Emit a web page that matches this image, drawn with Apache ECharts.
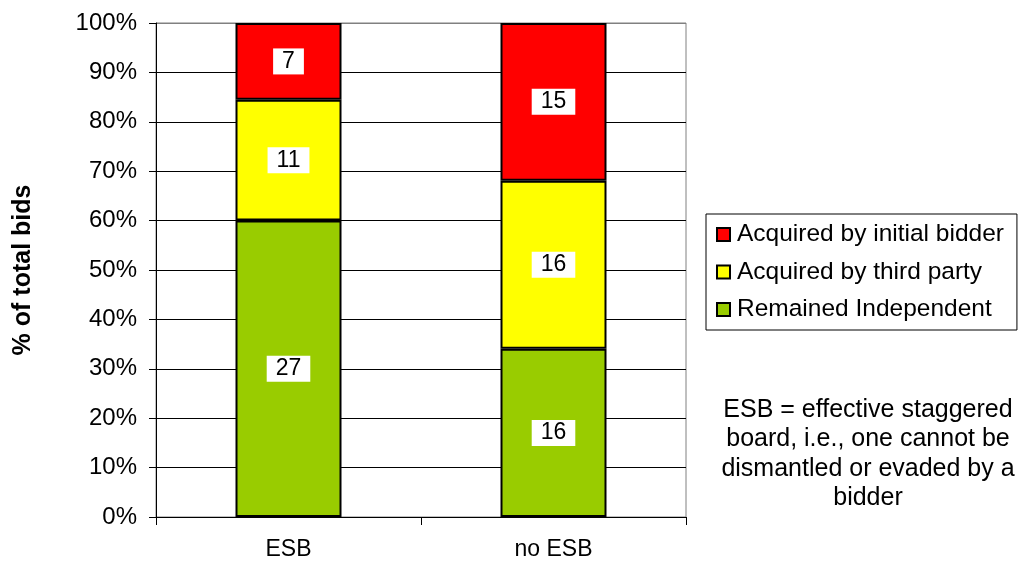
<!DOCTYPE html>
<html><head><meta charset="utf-8">
<script src="https://cdn.jsdelivr.net/npm/echarts@6/dist/echarts.min.js"></script>
<style>html,body{margin:0;padding:0;background:#fff}#c{width:1021px;height:565px}</style>
</head><body><div id="c"></div>
<script>
const categories = ['ESB', 'no ESB'];
const remainedIndependent = [27, 16];
const acquiredThirdParty = [11, 16];
const acquiredInitial = [7, 15];
const seriesNames = ['Remained Independent', 'Acquired by third party', 'Acquired by initial bidder'];
const seriesColors = ['#99CC00', '#FFFF00', '#FF0000'];
const noteLines = ['ESB = effective staggered', 'board, i.e., one cannot be', 'dismantled or evaded by a', 'bidder'];

const counts = [remainedIndependent, acquiredThirdParty, acquiredInitial];
const totals = categories.map((c, i) => counts.reduce((s, a) => s + a[i], 0));
const font = 'Arial, "Liberation Sans", sans-serif';

const chart = echarts.init(document.getElementById('c'));
chart.setOption({
  animation: false,
  textStyle: { fontFamily: font },
  grid: { left: 156, right: 335, top: 23, bottom: 48, show: true, borderColor: '#808080', borderWidth: 1,
          containLabel: false, outerBoundsMode: 'none' },
  xAxis: {
    type: 'category', data: categories,
    axisLine: { lineStyle: { color: '#000', width: 1 } },
    axisTick: { show: true, length: 8, lineStyle: { color: '#000' } },
    axisLabel: { color: '#000', fontSize: 23, margin: 21, fontFamily: font }
  },
  yAxis: {
    type: 'value', min: 0, max: 100, interval: 10,
    name: '% of total bids', nameLocation: 'middle', nameGap: 110,
    nameTextStyle: { fontSize: 25, fontWeight: 'bold', color: '#000', fontFamily: font, padding: [0, 0, 10, 0] },
    axisLine: { show: true, lineStyle: { color: '#000', width: 1 } },
    axisTick: { show: true, length: 7, lineStyle: { color: '#000' } },
    axisLabel: { color: '#000', fontSize: 24, margin: 19, formatter: '{value}%', fontFamily: font },
    splitLine: { lineStyle: { color: ['#000','#000','#000','#000','#000','#000','#000','#000','#000','#000','#808080'], width: 1 } }
  },
  legend: {
    orient: 'vertical', left: 706, top: 214,
    data: seriesNames.slice().reverse(),
    itemWidth: 13, itemHeight: 13, itemGap: 12.5,
    borderColor: '#000', borderWidth: 1, padding: [8, 13, 8, 10],
    textStyle: { fontSize: 24.5, color: '#000', fontFamily: font, padding: [0, 0, 0, 2] },
    icon: 'rect'
  },
  graphic: [{
    type: 'text', x: 868, y: 395,
    style: {
      text: noteLines.join('\n'), fontSize: 25, lineHeight: 29.5, fill: '#000',
      fontFamily: font, align: 'center', verticalAlign: 'top'
    }
  }],
  series: counts.map((arr, k) => ({
    name: seriesNames[k], type: 'bar', stack: 'total',
    barWidth: '40%',
    data: arr.map((v, i) => v / totals[i] * 100),
    itemStyle: { color: seriesColors[k], borderColor: '#000', borderWidth: 2 },
    label: {
      show: true, position: 'inside', color: '#000', fontSize: 23, fontFamily: font,
      backgroundColor: '#fff', padding: [2, 9, 1, 9],
      formatter: p => String(arr[p.dataIndex])
    }
  }))
});
</script></body></html>
